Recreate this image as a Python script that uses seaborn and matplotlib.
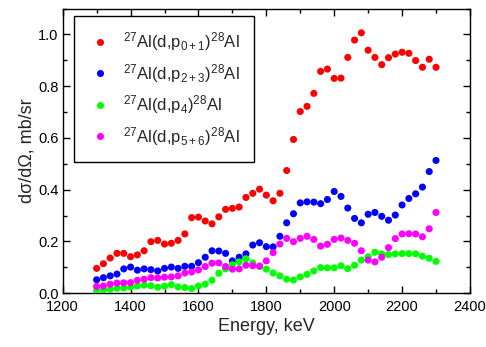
import numpy as np
import pandas as pd
import matplotlib
matplotlib.use("Agg")
import matplotlib.pyplot as plt
from matplotlib.ticker import MultipleLocator, FormatStrFormatter
import seaborn as sns

# Deuteron energies (keV)
energy = list(range(1300, 2301, 20))

# Differential cross sections (mb/sr)
p01 = [0.096, 0.114, 0.136, 0.154, 0.154, 0.141, 0.148, 0.164, 0.199, 0.204,
       0.190, 0.193, 0.204, 0.229, 0.292, 0.294, 0.279, 0.268, 0.295, 0.324,
       0.328, 0.333, 0.370, 0.386, 0.402, 0.379, 0.357, 0.386, 0.474, 0.594,
       0.702, 0.722, 0.772, 0.857, 0.866, 0.830, 0.831, 0.911, 0.978, 1.006,
       0.939, 0.911, 0.883, 0.910, 0.924, 0.931, 0.927, 0.899, 0.873, 0.904,
       0.873]
p23 = [0.052, 0.060, 0.067, 0.074, 0.094, 0.101, 0.089, 0.094, 0.091, 0.086,
       0.096, 0.101, 0.096, 0.104, 0.104, 0.118, 0.139, 0.164, 0.163, 0.154,
       0.125, 0.139, 0.152, 0.186, 0.195, 0.180, 0.179, 0.220, 0.272, 0.307,
       0.349, 0.353, 0.352, 0.346, 0.362, 0.393, 0.374, 0.329, 0.289, 0.272,
       0.305, 0.312, 0.297, 0.282, 0.302, 0.341, 0.366, 0.384, 0.410, 0.470,
       0.513]
p4 = [0.010, 0.013, 0.015, 0.019, 0.020, 0.024, 0.028, 0.031, 0.029, 0.023,
      0.027, 0.033, 0.024, 0.022, 0.018, 0.028, 0.035, 0.050, 0.077, 0.094,
      0.110, 0.121, 0.133, 0.117, 0.103, 0.093, 0.078, 0.067, 0.054, 0.051,
      0.063, 0.073, 0.086, 0.099, 0.098, 0.098, 0.106, 0.095, 0.108, 0.128,
      0.141, 0.158, 0.152, 0.149, 0.152, 0.153, 0.153, 0.152, 0.143, 0.135,
      0.123]
p56 = [0.026, 0.028, 0.035, 0.039, 0.040, 0.041, 0.050, 0.054, 0.060, 0.059,
       0.062, 0.063, 0.067, 0.078, 0.082, 0.090, 0.103, 0.116, 0.117, 0.103,
       0.093, 0.094, 0.108, 0.106, 0.105, 0.125, 0.157, 0.190, 0.212, 0.199,
       0.212, 0.220, 0.208, 0.182, 0.189, 0.208, 0.213, 0.204, 0.193, 0.164,
       0.128, 0.121, 0.139, 0.176, 0.211, 0.229, 0.230, 0.229, 0.218, 0.249,
       0.312]

labels = [r"$^{27}$Al(d,p$_{0+1}$)$^{28}$Al",
          r"$^{27}$Al(d,p$_{2+3}$)$^{28}$Al",
          r"$^{27}$Al(d,p$_{4}$)$^{28}$Al",
          r"$^{27}$Al(d,p$_{5+6}$)$^{28}$Al"]
colors = ["#ff0000", "#0000ff", "#00ff00", "#ff00ff"]

frames = []
for lab, vals in zip(labels, [p01, p23, p4, p56]):
    frames.append(pd.DataFrame({"E": energy, "xs": vals, "channel": lab}))
df = pd.concat(frames, ignore_index=True)

sns.set_style("ticks")
plt.rcParams["font.family"] = ["Liberation Sans", "DejaVu Sans"]
plt.rcParams["mathtext.default"] = "regular"
plt.rcParams["xtick.direction"] = "in"
plt.rcParams["ytick.direction"] = "in"

fig = plt.figure(figsize=(4.86, 3.47), dpi=100)
ax = fig.add_axes([0.129, 0.155, 0.838, 0.8205])

sns.scatterplot(data=df, x="E", y="xs", hue="channel", palette=colors,
                s=26, linewidth=0, edgecolor="none", ax=ax, zorder=3)

ax.set_xlim(1200, 2400)
ax.set_ylim(0, 1.1)
ax.xaxis.set_major_locator(MultipleLocator(200))
ax.xaxis.set_minor_locator(MultipleLocator(100))
ax.yaxis.set_major_locator(MultipleLocator(0.2))
ax.yaxis.set_minor_locator(MultipleLocator(0.1))
ax.yaxis.set_major_formatter(FormatStrFormatter("%.1f"))
ax.tick_params(which="both", top=True, right=True, direction="in",
               color="black", width=1, labelsize=10.5, colors="black")
ax.tick_params(which="major", length=5)
ax.tick_params(which="minor", length=3)
ax.tick_params(axis="x", which="major", pad=5)
ax.tick_params(axis="y", which="major", pad=3)
for sp in ax.spines.values():
    sp.set_visible(True)
    sp.set_color("black")
    sp.set_linewidth(1)

ax.set_xlabel("Energy, keV", fontsize=13, labelpad=3)
ax.set_ylabel("dσ/dΩ, mb/sr", fontsize=13, labelpad=2)

handles, _ = ax.get_legend_handles_labels()
leg = ax.legend(handles, labels, loc="upper left",
                bbox_to_anchor=(0.028, 0.974), borderaxespad=0,
                fontsize=12, frameon=True, fancybox=False,
                handletextpad=0.62, labelspacing=0.52, borderpad=0.85,
                handlelength=1.45, markerscale=1.0)
leg.get_frame().set_edgecolor("black")
leg.get_frame().set_linewidth(1)
leg.get_frame().set_alpha(1)

fig.savefig("out.png", dpi=100)
